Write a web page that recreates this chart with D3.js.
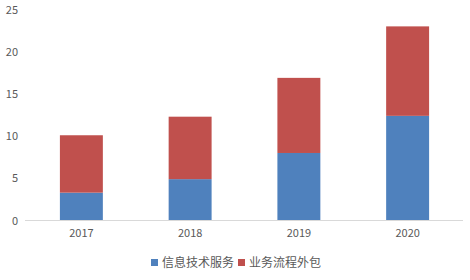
<!DOCTYPE html>
<html>
<head>
<meta charset="utf-8">
<script src="https://cdn.jsdelivr.net/npm/d3@7"></script>
<style>
body { margin: 0; background: #fff; }
text { font-family: "Noto Sans CJK SC", "Liberation Sans", sans-serif; fill: #595959; }
</style>
</head>
<body>
<svg id="chart"></svg>
<script>
var years = ["2017", "2018", "2019", "2020"];
var itService = [3.3, 4.9, 8.0, 12.4];
var bpo = [6.8, 7.4, 8.9, 10.6];
var seriesNames = ["信息技术服务", "业务流程外包"];
var seriesColors = ["#4f81bd", "#c0504d"];
var yTicks = [0, 5, 10, 15, 20, 25];

var width = 470, height = 280;
var svg = d3.select("#chart").attr("width", width).attr("height", height);

var x = d3.scaleBand().domain(years).range([27, 462])
	.paddingInner(0.605)
	.paddingOuter(0.3025);
var y = d3.scaleLinear().domain([0, 25]).range([220.5, 9.5]);

// stacked data
var rows = years.map(function(yr, i) {
	return { year: yr, a: itService[i], b: bpo[i] };
});
var stack = d3.stack().keys(["a", "b"])(rows);

svg.selectAll("g.series")
	.data(stack)
	.enter()
	.append("g")
		.attr("fill", function(d, i) { return seriesColors[i]; })
	.selectAll("rect")
	.data(function(d) { return d; })
	.enter()
	.append("rect")
		.attr("x", function(d) { return x(d.data.year); })
		.attr("width", x.bandwidth())
		.attr("y", function(d) { return y(d[1]); })
		.attr("height", function(d) { return y(d[0]) - y(d[1]); });

// baseline
svg.append("line")
	.attr("x1", 25).attr("x2", 463)
	.attr("y1", y(0)).attr("y2", y(0))
	.attr("stroke", "#d9d9d9");

// Y axis labels
var yAxis = d3.axisLeft(y).tickValues(yTicks).tickSize(0).tickPadding(0);
var gy = svg.append("g").attr("transform", "translate(18,0)").call(yAxis);
gy.select(".domain").remove();
gy.selectAll("text").style("font-size", "11px").attr("fill", "#595959");

// X axis labels
var xAxis = d3.axisBottom(x).tickSize(0).tickPadding(0);
var gx = svg.append("g").attr("transform", "translate(0,229)").call(xAxis);
gx.select(".domain").remove();
gx.selectAll("text").style("font-size", "11px").attr("fill", "#595959");

// Legend
var legendX = [151, 238];
var legend = svg.selectAll("g.legend")
	.data(seriesNames)
	.enter()
	.append("g")
		.attr("transform", function(d, i) { return "translate(" + legendX[i] + ",263)"; });

legend.append("rect")
	.attr("x", 0).attr("y", -4)
	.attr("width", 7).attr("height", 7)
	.attr("fill", function(d, i) { return seriesColors[i]; });

legend.append("text")
	.attr("x", 11).attr("y", 0)
	.attr("dy", "0.35em")
	.style("font-size", "12px")
	.text(function(d) { return d; });
</script>
</body>
</html>
